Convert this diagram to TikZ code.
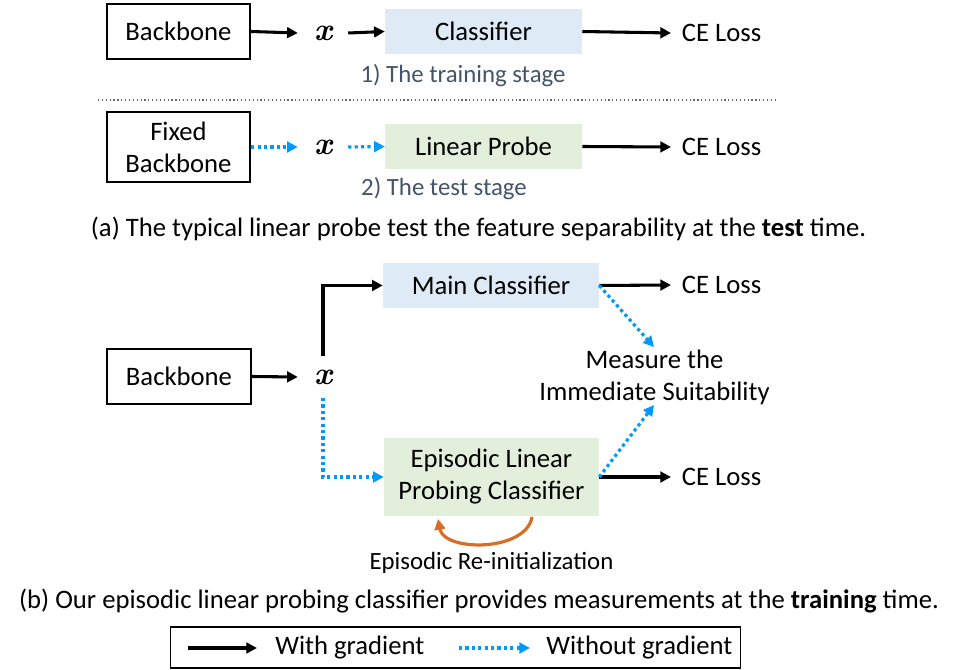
\documentclass[tikz,border=0pt]{standalone}
\usepackage{fontspec}
\usepackage{amsmath}
\usetikzlibrary{arrows.meta}
\setmainfont{Carlito}
\newfontfamily\featfont{Latin Modern Roman}

\definecolor{boxblue}{RGB}{222,234,246}
\definecolor{boxgreen}{RGB}{226,239,218}
\definecolor{nograd}{RGB}{0,153,255}
\definecolor{stagetxt}{RGB}{68,84,106}
\definecolor{reinit}{RGB}{215,110,40}

\tikzset{
  txt/.style={font=\fontsize{20}{24}\selectfont, align=center},
  small/.style={font=\fontsize{18.6}{22}\selectfont, align=center},
  bbox/.style={txt, draw, line width=1.4pt, minimum width=107.5pt},
  blbox/.style={txt, fill=boxblue, minimum height=33.75pt},
  grbox/.style={txt, fill=boxgreen},
  feat/.style={font=\featfont\fontsize{24}{24}\selectfont\bfseries\itshape, inner xsep=12pt, inner ysep=8pt},
  grad/.style={line width=2.3pt, -{Triangle[length=8pt,width=8pt]}},
  nog/.style={nograd, line width=2.4pt, dash pattern=on 2.4pt off 2.4pt, -{Triangle[length=8pt,width=8pt]}},
  loss/.style={txt, anchor=west, inner xsep=8pt, inner ysep=0pt}
}

\begin{document}
\begin{tikzpicture}[x=0.75pt, y=-0.75pt]
\useasboundingbox (0,0) rectangle (958,670);

% (a) training stage
\node[bbox, minimum height=41.25pt] (bb1) at (178.5,31.5) {Backbone};
\node[feat] (x1) at (323,33) {x};
\node[blbox, minimum width=147.75pt] (cls) at (483.5,31.5) {Classifier};
\node[loss] (ce1) at (671,33) {CE Loss};
\node[small, text=stagetxt] (st1) at (463,76) {1) The training stage};
\draw[grad] (bb1.east) -- (x1.west);
\draw[grad] (x1.east) -- (cls.west);
\draw[grad] (cls.east) -- (ce1.west);

% separator
\coordinate (sepl) at (98,100);
\coordinate (sepr) at (777,100);
\draw[gray!80!black, line width=0.9pt, dotted] (sepl) -- (sepr);

% (a) test stage
\node[bbox, minimum height=52.5pt] (bb2) at (178.5,147) {Fixed\\Backbone};
\node[feat] (x2) at (323,147) {x};
\node[grbox, minimum width=147.75pt, minimum height=33.75pt] (lp) at (483.5,146.5) {Linear Probe};
\node[loss] (ce2) at (671,147) {CE Loss};
\node[small, text=stagetxt] (st2) at (444,189) {2) The test stage};
\draw[nog] (bb2.east) -- (x2.west);
\draw[nog] (x2.east) -- (lp.west);
\draw[grad] (lp.east) -- (ce2.west);

\node[txt] (capa) at (478.5,229) {(a) The typical linear probe test the feature separability at the \textbf{test} time.};

% (b) episodic linear probing
\node[bbox, minimum height=41.25pt] (bb3) at (179,376.5) {Backbone};
\node[feat, inner ysep=10pt] (x3) at (323,377) {x};
\node[blbox, minimum width=162pt] (main) at (491,285.5) {Main Classifier};
\node[grbox, minimum width=161.25pt, minimum height=58.5pt] (epi) at (491.5,477) {Episodic Linear\\Probing Classifier};
\node[loss] (ce3) at (671,285) {CE Loss};
\node[loss] (ce4) at (671,477) {CE Loss};
\node[txt] (meas) at (654.5,377) {Measure the\\Immediate Suitability};
\coordinate (m1) at (654,347);
\coordinate (m2) at (654,405);
\draw[grad] (bb3.east) -- (x3.west);
\draw[grad] (x3.north) |- (main.west);
\draw[nog] (x3.south) |- (epi.west);
\draw[grad] (main.east) -- (ce3.west);
\draw[grad] (epi.east) -- (ce4.west);
\draw[nog] (main.east) -- (m1);
\draw[nog] (epi.east) -- (m2);

% re-initialization loop
\coordinate (re1) at (532,517);
\coordinate (re2) at (438,519);
\draw[reinit, line width=2.4pt, -{Triangle[length=8pt,width=8pt]}] (re1) .. controls (526,552) and (444,552) .. (re2);
\node[small] (relab) at (491.5,563) {Episodic Re-initialization};

\node[txt] (capb) at (479,601) {(b) Our episodic linear probing classifier provides measurements at the \textbf{training} time.};

% legend
\node[draw, line width=1.4pt, minimum width=427.5pt, minimum height=30.75pt] (legend) at (455.5,647.5) {};
\coordinate (lga) at (188,648);
\coordinate (lgb) at (257,648);
\coordinate (lgc) at (459,648);
\coordinate (lgd) at (530,648);
\draw[grad] (lga) -- (lgb);
\draw[nog] (lgc) -- (lgd);
\node[txt, anchor=west, inner sep=0pt] (lgt1) at (275,648) {With gradient};
\node[txt, anchor=west, inner sep=0pt] (lgt2) at (546,648) {Without gradient};
\end{tikzpicture}
\end{document}
